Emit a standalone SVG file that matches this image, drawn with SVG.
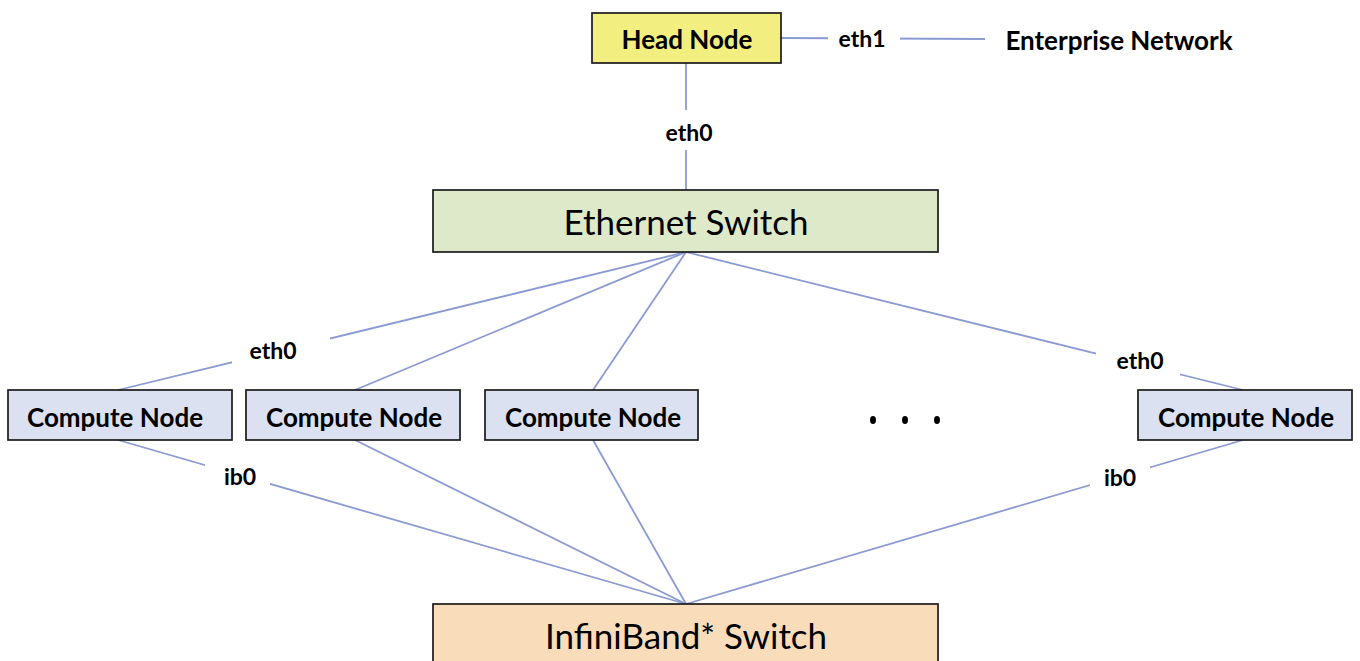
<svg xmlns="http://www.w3.org/2000/svg" width="1360" height="661" viewBox="0 0 1360 661">
<style>
.box{stroke:#1a1a1a;stroke-width:1.7}
.t{font-family:Lato,"Liberation Sans",sans-serif;fill:#000;text-anchor:middle}
.b{font-weight:bold}
.lb{font-size:23px}
.cn{font-size:26px}
.big{font-size:35px}
.c{stroke:#8a9ad2;stroke-width:1.8;fill:none}
.gap{fill:#fff}
</style>
<rect width="1360" height="661" fill="#fff"/>
<g id="connectors">
<line class="c" x1="781" y1="38" x2="985" y2="39"/>
<line class="c" x1="686" y1="63" x2="686" y2="190"/>
<line class="c" x1="686" y1="252" x2="118" y2="390"/>
<line class="c" x1="686" y1="252" x2="355" y2="390"/>
<line class="c" x1="686" y1="252" x2="593" y2="390"/>
<line class="c" x1="686" y1="252" x2="1243" y2="390"/>
<line class="c" x1="118" y1="440" x2="686" y2="604"/>
<line class="c" x1="355" y1="440" x2="686" y2="604"/>
<line class="c" x1="593" y1="440" x2="686" y2="604"/>
<line class="c" x1="1243" y1="440" x2="686" y2="604"/>
<rect class="gap" x="828" y="24" width="72" height="30"/>
<rect class="gap" x="650" y="110" width="72" height="40"/>
<rect class="gap" x="232" y="337" width="98" height="28"/>
<rect class="gap" x="1096" y="348" width="84" height="28"/>
<rect class="gap" x="205" y="462" width="65" height="28"/>
<rect class="gap" x="1090" y="462" width="60" height="28"/>
<text class="t b lb" x="862" y="47">eth1</text>
<text class="t b lb" x="689" y="141">eth0</text>
<text class="t b lb" x="273" y="359">eth0</text>
<text class="t b lb" x="1140" y="369">eth0</text>
<text class="t b lb" x="240" y="485">ib0</text>
<text class="t b lb" x="1120" y="486">ib0</text>
</g>
<g id="head-node">
<rect class="box" x="592" y="13" width="189" height="50" fill="#f3ee80"/>
<text class="t b cn" x="687" y="49">Head Node</text>
</g>
<g id="enterprise-network">
<text class="t b cn" x="1119" y="50">Enterprise Network</text>
</g>
<g id="ethernet-switch">
<rect class="box" x="433" y="190" width="505" height="62" fill="#dde9c9"/>
<text class="t big" x="686" y="235">Ethernet Switch</text>
</g>
<g id="compute-node-1">
<rect class="box" x="8" y="390" width="224" height="50" fill="#dce1f1"/>
<text class="t b cn" x="115" y="427">Compute Node</text>
</g>
<g id="compute-node-2">
<rect class="box" x="246" y="390" width="214" height="50" fill="#dce1f1"/>
<text class="t b cn" x="354" y="427">Compute Node</text>
</g>
<g id="compute-node-3">
<rect class="box" x="485" y="390" width="213" height="50" fill="#dce1f1"/>
<text class="t b cn" x="593" y="427">Compute Node</text>
</g>
<g id="ellipsis">
<ellipse cx="873" cy="420" rx="3" ry="4" fill="#000"/>
<ellipse cx="905" cy="420" rx="3" ry="4" fill="#000"/>
<ellipse cx="937" cy="420" rx="3" ry="4" fill="#000"/>
</g>
<g id="compute-node-4">
<rect class="box" x="1138" y="390" width="214" height="50" fill="#dce1f1"/>
<text class="t b cn" x="1246" y="427">Compute Node</text>
</g>
<g id="infiniband-switch">
<rect class="box" x="433" y="604" width="505" height="70" fill="#f9ddbb"/>
<text class="t big" x="686" y="649">InfiniBand* Switch</text>
</g>
</svg>
